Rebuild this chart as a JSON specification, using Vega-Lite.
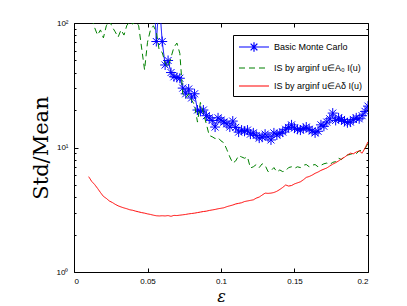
{
  "$schema": "https://vega.github.io/schema/vega-lite/v6.json",
  "width": 294,
  "height": 249,
  "autosize": "none",
  "padding": {"left": 74, "top": 23, "right": 39, "bottom": 34},
  "background": "white",
  "config": {"view": {"stroke": null}, "font": "Liberation Sans"},
  "data": {"values": [
    {"x":0.050,"y":180,"s":"B"},{"x":0.052,"y":150,"s":"B"},{"x":0.054,"y":200,"s":"B"},{"x":0.056,"y":71,"s":"B"},{"x":0.058,"y":150,"s":"B"},{"x":0.060,"y":71,"s":"B"},{"x":0.062,"y":46,"s":"B"},{"x":0.064,"y":50,"s":"B"},{"x":0.066,"y":40,"s":"B"},{"x":0.068,"y":37,"s":"B"},{"x":0.070,"y":36.5,"s":"B"},{"x":0.072,"y":36,"s":"B"},{"x":0.074,"y":30,"s":"B"},{"x":0.076,"y":27,"s":"B"},{"x":0.078,"y":29.5,"s":"B"},{"x":0.080,"y":25,"s":"B"},{"x":0.082,"y":27,"s":"B"},{"x":0.084,"y":20,"s":"B"},{"x":0.086,"y":19.5,"s":"B"},{"x":0.088,"y":20,"s":"B"},{"x":0.090,"y":18,"s":"B"},{"x":0.092,"y":17.3,"s":"B"},{"x":0.094,"y":16.5,"s":"B"},{"x":0.096,"y":14.6,"s":"B"},{"x":0.098,"y":17.3,"s":"B"},{"x":0.100,"y":16.6,"s":"B"},{"x":0.102,"y":16,"s":"B"},{"x":0.104,"y":15.5,"s":"B"},{"x":0.106,"y":14.6,"s":"B"},{"x":0.108,"y":16.3,"s":"B"},{"x":0.110,"y":14.5,"s":"B"},{"x":0.112,"y":13.3,"s":"B"},{"x":0.114,"y":13.8,"s":"B"},{"x":0.116,"y":13.5,"s":"B"},{"x":0.118,"y":13.8,"s":"B"},{"x":0.120,"y":12.8,"s":"B"},{"x":0.122,"y":13.1,"s":"B"},{"x":0.124,"y":12.5,"s":"B"},{"x":0.126,"y":11.9,"s":"B"},{"x":0.128,"y":12.1,"s":"B"},{"x":0.130,"y":12.8,"s":"B"},{"x":0.132,"y":12.2,"s":"B"},{"x":0.134,"y":11.5,"s":"B"},{"x":0.136,"y":13.1,"s":"B"},{"x":0.138,"y":12.6,"s":"B"},{"x":0.140,"y":13.0,"s":"B"},{"x":0.142,"y":13.3,"s":"B"},{"x":0.144,"y":14.0,"s":"B"},{"x":0.146,"y":14.5,"s":"B"},{"x":0.148,"y":15.2,"s":"B"},{"x":0.150,"y":14.3,"s":"B"},{"x":0.152,"y":14.0,"s":"B"},{"x":0.154,"y":13.8,"s":"B"},{"x":0.156,"y":14.2,"s":"B"},{"x":0.158,"y":14.6,"s":"B"},{"x":0.160,"y":14.0,"s":"B"},{"x":0.162,"y":13.6,"s":"B"},{"x":0.164,"y":13.1,"s":"B"},{"x":0.166,"y":13.5,"s":"B"},{"x":0.168,"y":15.2,"s":"B"},{"x":0.170,"y":14.8,"s":"B"},{"x":0.172,"y":16.0,"s":"B"},{"x":0.174,"y":17.0,"s":"B"},{"x":0.176,"y":18.9,"s":"B"},{"x":0.178,"y":16.5,"s":"B"},{"x":0.180,"y":17.3,"s":"B"},{"x":0.182,"y":16.8,"s":"B"},{"x":0.184,"y":16.2,"s":"B"},{"x":0.186,"y":15.8,"s":"B"},{"x":0.188,"y":16.0,"s":"B"},{"x":0.190,"y":16.8,"s":"B"},{"x":0.192,"y":17.3,"s":"B"},{"x":0.194,"y":17.0,"s":"B"},{"x":0.196,"y":18.0,"s":"B"},{"x":0.198,"y":19.5,"s":"B"},{"x":0.200,"y":21.5,"s":"B"},

    {"x":0.010,"y":130,"s":"G"},{"x":0.012,"y":110,"s":"G"},{"x":0.014,"y":92,"s":"G"},{"x":0.016,"y":80,"s":"G"},{"x":0.018,"y":88,"s":"G"},{"x":0.020,"y":76,"s":"G"},{"x":0.022,"y":95,"s":"G"},{"x":0.024,"y":105,"s":"G"},{"x":0.026,"y":93,"s":"G"},{"x":0.028,"y":85,"s":"G"},{"x":0.030,"y":77,"s":"G"},{"x":0.032,"y":88,"s":"G"},{"x":0.034,"y":80,"s":"G"},{"x":0.036,"y":96,"s":"G"},{"x":0.038,"y":102,"s":"G"},{"x":0.040,"y":98,"s":"G"},{"x":0.042,"y":104,"s":"G"},{"x":0.044,"y":95,"s":"G"},{"x":0.046,"y":63,"s":"G"},{"x":0.048,"y":42,"s":"G"},{"x":0.050,"y":70,"s":"G"},{"x":0.052,"y":88,"s":"G"},{"x":0.054,"y":95,"s":"G"},{"x":0.056,"y":85,"s":"G"},{"x":0.058,"y":60,"s":"G"},{"x":0.060,"y":58,"s":"G"},{"x":0.062,"y":48,"s":"G"},{"x":0.064,"y":44,"s":"G"},{"x":0.066,"y":53,"s":"G"},{"x":0.068,"y":64,"s":"G"},{"x":0.070,"y":69,"s":"G"},{"x":0.072,"y":57,"s":"G"},{"x":0.074,"y":27,"s":"G"},{"x":0.076,"y":25,"s":"G"},{"x":0.078,"y":27,"s":"G"},{"x":0.080,"y":24,"s":"G"},{"x":0.082,"y":22,"s":"G"},{"x":0.084,"y":16,"s":"G"},{"x":0.086,"y":23,"s":"G"},{"x":0.088,"y":19,"s":"G"},{"x":0.090,"y":15.5,"s":"G"},{"x":0.092,"y":12.5,"s":"G"},{"x":0.094,"y":12.2,"s":"G"},{"x":0.096,"y":11.8,"s":"G"},{"x":0.098,"y":12.0,"s":"G"},{"x":0.100,"y":11.3,"s":"G"},{"x":0.102,"y":10.9,"s":"G"},{"x":0.104,"y":9.6,"s":"G"},{"x":0.106,"y":8.4,"s":"G"},{"x":0.108,"y":7.5,"s":"G"},{"x":0.110,"y":7.8,"s":"G"},{"x":0.112,"y":8.6,"s":"G"},{"x":0.114,"y":8.4,"s":"G"},{"x":0.116,"y":8.2,"s":"G"},{"x":0.118,"y":8.4,"s":"G"},{"x":0.120,"y":6.85,"s":"G"},{"x":0.122,"y":7.0,"s":"G"},{"x":0.124,"y":7.3,"s":"G"},{"x":0.126,"y":6.9,"s":"G"},{"x":0.128,"y":7.4,"s":"G"},{"x":0.130,"y":7.2,"s":"G"},{"x":0.132,"y":6.4,"s":"G"},{"x":0.134,"y":6.5,"s":"G"},{"x":0.136,"y":6.9,"s":"G"},{"x":0.138,"y":6.36,"s":"G"},{"x":0.140,"y":6.6,"s":"G"},{"x":0.142,"y":6.4,"s":"G"},{"x":0.144,"y":6.5,"s":"G"},{"x":0.146,"y":6.9,"s":"G"},{"x":0.148,"y":7.0,"s":"G"},{"x":0.150,"y":6.8,"s":"G"},{"x":0.152,"y":7.0,"s":"G"},{"x":0.154,"y":6.9,"s":"G"},{"x":0.156,"y":7.2,"s":"G"},{"x":0.158,"y":7.3,"s":"G"},{"x":0.160,"y":7.0,"s":"G"},{"x":0.162,"y":7.2,"s":"G"},{"x":0.164,"y":7.3,"s":"G"},{"x":0.166,"y":7.0,"s":"G"},{"x":0.168,"y":7.2,"s":"G"},{"x":0.170,"y":7.4,"s":"G"},{"x":0.172,"y":7.5,"s":"G"},{"x":0.174,"y":7.3,"s":"G"},{"x":0.176,"y":7.6,"s":"G"},{"x":0.178,"y":7.7,"s":"G"},{"x":0.180,"y":8.2,"s":"G"},{"x":0.182,"y":8.0,"s":"G"},{"x":0.184,"y":8.5,"s":"G"},{"x":0.186,"y":8.7,"s":"G"},{"x":0.188,"y":8.8,"s":"G"},{"x":0.190,"y":9.0,"s":"G"},{"x":0.192,"y":8.9,"s":"G"},{"x":0.194,"y":9.4,"s":"G"},{"x":0.196,"y":9.5,"s":"G"},{"x":0.198,"y":9.8,"s":"G"},{"x":0.200,"y":10.8,"s":"G"},

    {"x":0.010,"y":5.83,"s":"R"},{"x":0.012,"y":5.35,"s":"R"},{"x":0.014,"y":5.05,"s":"R"},{"x":0.016,"y":4.70,"s":"R"},{"x":0.018,"y":4.35,"s":"R"},{"x":0.020,"y":4.05,"s":"R"},{"x":0.022,"y":3.90,"s":"R"},{"x":0.024,"y":3.72,"s":"R"},{"x":0.026,"y":3.62,"s":"R"},{"x":0.028,"y":3.50,"s":"R"},{"x":0.030,"y":3.40,"s":"R"},{"x":0.032,"y":3.33,"s":"R"},{"x":0.034,"y":3.27,"s":"R"},{"x":0.036,"y":3.22,"s":"R"},{"x":0.038,"y":3.16,"s":"R"},{"x":0.040,"y":3.13,"s":"R"},{"x":0.042,"y":3.08,"s":"R"},{"x":0.044,"y":3.04,"s":"R"},{"x":0.046,"y":3.00,"s":"R"},{"x":0.048,"y":2.97,"s":"R"},{"x":0.050,"y":2.93,"s":"R"},{"x":0.052,"y":2.90,"s":"R"},{"x":0.054,"y":2.86,"s":"R"},{"x":0.056,"y":2.83,"s":"R"},{"x":0.058,"y":2.82,"s":"R"},{"x":0.060,"y":2.83,"s":"R"},{"x":0.062,"y":2.82,"s":"R"},{"x":0.064,"y":2.84,"s":"R"},{"x":0.066,"y":2.80,"s":"R"},{"x":0.068,"y":2.85,"s":"R"},{"x":0.070,"y":2.84,"s":"R"},{"x":0.072,"y":2.86,"s":"R"},{"x":0.074,"y":2.88,"s":"R"},{"x":0.076,"y":2.90,"s":"R"},{"x":0.078,"y":2.93,"s":"R"},{"x":0.080,"y":2.95,"s":"R"},{"x":0.082,"y":2.97,"s":"R"},{"x":0.084,"y":3.00,"s":"R"},{"x":0.086,"y":3.03,"s":"R"},{"x":0.088,"y":3.06,"s":"R"},{"x":0.090,"y":3.08,"s":"R"},{"x":0.092,"y":3.12,"s":"R"},{"x":0.094,"y":3.15,"s":"R"},{"x":0.096,"y":3.18,"s":"R"},{"x":0.098,"y":3.22,"s":"R"},{"x":0.100,"y":3.25,"s":"R"},{"x":0.102,"y":3.28,"s":"R"},{"x":0.104,"y":3.35,"s":"R"},{"x":0.106,"y":3.40,"s":"R"},{"x":0.108,"y":3.45,"s":"R"},{"x":0.110,"y":3.52,"s":"R"},{"x":0.112,"y":3.56,"s":"R"},{"x":0.114,"y":3.60,"s":"R"},{"x":0.116,"y":3.68,"s":"R"},{"x":0.118,"y":3.72,"s":"R"},{"x":0.120,"y":3.76,"s":"R"},{"x":0.122,"y":3.80,"s":"R"},{"x":0.124,"y":3.92,"s":"R"},{"x":0.126,"y":4.00,"s":"R"},{"x":0.128,"y":4.15,"s":"R"},{"x":0.130,"y":4.30,"s":"R"},{"x":0.132,"y":4.28,"s":"R"},{"x":0.134,"y":4.30,"s":"R"},{"x":0.136,"y":4.35,"s":"R"},{"x":0.138,"y":4.45,"s":"R"},{"x":0.140,"y":4.60,"s":"R"},{"x":0.142,"y":4.78,"s":"R"},{"x":0.144,"y":5.00,"s":"R"},{"x":0.146,"y":4.90,"s":"R"},{"x":0.148,"y":4.95,"s":"R"},{"x":0.150,"y":5.10,"s":"R"},{"x":0.152,"y":5.20,"s":"R"},{"x":0.154,"y":5.30,"s":"R"},{"x":0.156,"y":5.50,"s":"R"},{"x":0.158,"y":5.75,"s":"R"},{"x":0.160,"y":5.85,"s":"R"},{"x":0.162,"y":6.00,"s":"R"},{"x":0.164,"y":6.20,"s":"R"},{"x":0.166,"y":6.35,"s":"R"},{"x":0.168,"y":6.55,"s":"R"},{"x":0.170,"y":6.70,"s":"R"},{"x":0.172,"y":6.85,"s":"R"},{"x":0.174,"y":7.10,"s":"R"},{"x":0.176,"y":7.35,"s":"R"},{"x":0.178,"y":7.55,"s":"R"},{"x":0.180,"y":7.80,"s":"R"},{"x":0.182,"y":8.10,"s":"R"},{"x":0.184,"y":8.35,"s":"R"},{"x":0.186,"y":8.70,"s":"R"},{"x":0.188,"y":9.00,"s":"R"},{"x":0.190,"y":8.90,"s":"R"},{"x":0.192,"y":9.20,"s":"R"},{"x":0.194,"y":9.40,"s":"R"},{"x":0.196,"y":9.00,"s":"R"},{"x":0.198,"y":9.90,"s":"R"},{"x":0.200,"y":11.1,"s":"R"}
  ]},
  "resolve": {"axis": {"x": "independent", "y": "independent"}},
  "layer": [
    {
      "transform": [{"filter": "datum.s === 'B'"}],
      "mark": {"type": "line", "clip": true, "strokeWidth": 1},
      "encoding": {
        "x": {"field": "x", "type": "quantitative", "scale": {"domain": [0, 0.2], "nice": false},
          "axis": {"orient": "bottom", "values": [0, 0.05, 0.1, 0.15, 0.2], "format": "~g", "grid": false,
            "domainColor": "black", "domainWidth": 1, "tickColor": "black", "tickSize": -4, "labelPadding": 9,
            "labelFont": "Liberation Sans", "labelFontSize": 8, "labelColor": "black",
            "title": "ε", "titleFont": "DejaVu Serif", "titleFontStyle": "italic", "titleFontWeight": "normal", "titleFontSize": 16,
            "titleColor": "black", "titleX": 147, "titleY": 24, "titleBaseline": "middle", "titleAlign": "center"}},
        "y": {"field": "y", "type": "quantitative", "scale": {"type": "log", "domain": [1, 100], "nice": false},
          "axis": {"orient": "left", "values": [1,2,3,4,5,6,7,8,9,10,20,30,40,50,60,70,80,90,100], "grid": false,
            "labelExpr": "datum.value === 1 ? '10⁰' : datum.value === 10 ? '10¹' : datum.value === 100 ? '10²' : ''",
            "domainColor": "black", "domainWidth": 1, "tickColor": "black",
            "tickSize": {"condition": {"test": "datum.value === 1 || datum.value === 10 || datum.value === 100", "value": -4}, "value": -2},
            "labelPadding": 10, "labelFont": "Liberation Sans", "labelFontSize": 8, "labelColor": "black",
            "title": "Std/Mean", "titleFont": "DejaVu Serif", "titleFontWeight": "normal", "titleFontSize": 21, "titleColor": "black",
            "titleX": -33, "titleY": 124.5, "titleAngle": -90, "titleAlign": "center", "titleBaseline": "middle"}},
        "color": {"field": "s", "type": "nominal",
          "scale": {"domain": ["B", "G", "R"], "range": ["#0000ff", "#008000", "#ff0000"]},
          "legend": {"orient": "none", "legendX": 159, "legendY": 12, "title": null, "padding": 5,
            "strokeColor": "black", "fillColor": "white", "symbolSize": 144, "symbolOffset": 9, "labelOffset": 13,
            "rowPadding": 6, "labelFont": "Liberation Sans", "labelFontSize": 9, "labelColor": "black", "symbolStrokeWidth": 1.2,
            "labelExpr": "datum.value === 'B' ? 'Basic Monte Carlo' : datum.value === 'G' ? 'IS by arginf u∈A₀ I(u)' : 'IS by arginf u∈Aδ I(u)'",
            "encode": {"symbols": {"update": {"shape": {"signal": "datum.value === 'B' ? 'M-2.5,0H2.5M-0.8,0H0.8M0,-0.8V0.8M-0.56,-0.56L0.56,0.56M-0.56,0.56L0.56,-0.56' : 'M-2.5,0H2.5'"}}}}}},
        "strokeDash": {"field": "s", "type": "nominal",
          "scale": {"domain": ["B", "G", "R"], "range": [[1, 0], [6, 4], [1, 0]]},
          "legend": {"orient": "none", "legendX": 159, "legendY": 12, "title": null, "padding": 5,
            "strokeColor": "black", "fillColor": "white", "symbolSize": 144, "symbolOffset": 9, "labelOffset": 13,
            "rowPadding": 6, "labelFont": "Liberation Sans", "labelFontSize": 9, "labelColor": "black", "symbolStrokeWidth": 1.2,
            "labelExpr": "datum.value === 'B' ? 'Basic Monte Carlo' : datum.value === 'G' ? 'IS by arginf u∈A₀ I(u)' : 'IS by arginf u∈Aδ I(u)'",
            "encode": {"symbols": {"update": {"shape": {"signal": "datum.value === 'B' ? 'M-2.5,0H2.5M-0.8,0H0.8M0,-0.8V0.8M-0.56,-0.56L0.56,0.56M-0.56,0.56L0.56,-0.56' : 'M-2.5,0H2.5'"}}}}}}
      }
    },
    {
      "transform": [{"filter": "datum.s === 'B' && datum.y <= 100"}],
      "mark": {"type": "point", "clip": true, "filled": false, "color": "#0000ff", "strokeWidth": 1, "size": 100, "opacity": 1,
        "shape": "M-1,0H1M0,-1V1M-0.7,-0.7L0.7,0.7M-0.7,0.7L0.7,-0.7"},
      "encoding": {
        "x": {"field": "x", "type": "quantitative", "axis": null},
        "y": {"field": "y", "type": "quantitative", "axis": null}
      }
    },
    {
      "transform": [{"filter": "datum.s !== 'B'"}],
      "mark": {"type": "line", "clip": true, "strokeWidth": 1},
      "encoding": {
        "x": {"field": "x", "type": "quantitative", "axis": null},
        "y": {"field": "y", "type": "quantitative", "axis": null},
        "color": {"field": "s", "type": "nominal"},
        "strokeDash": {"field": "s", "type": "nominal"}
      }
    },
    {
      "transform": [{"filter": "datum.s === 'R'"}],
      "mark": {"type": "line", "opacity": 0},
      "encoding": {
        "x": {"field": "x", "type": "quantitative",
          "axis": {"orient": "top", "values": [0, 0.05, 0.1, 0.15, 0.2], "labels": false, "title": null, "grid": false,
            "domainColor": "black", "domainWidth": 1, "tickColor": "black", "tickSize": -4}},
        "y": {"field": "y", "type": "quantitative",
          "axis": {"orient": "right", "values": [1,2,3,4,5,6,7,8,9,10,20,30,40,50,60,70,80,90,100], "labels": false, "title": null, "grid": false,
            "domainColor": "black", "domainWidth": 1, "tickColor": "black",
            "tickSize": {"condition": {"test": "datum.value === 1 || datum.value === 10 || datum.value === 100", "value": -4}, "value": -2}}}
      }
    }
  ]
}
